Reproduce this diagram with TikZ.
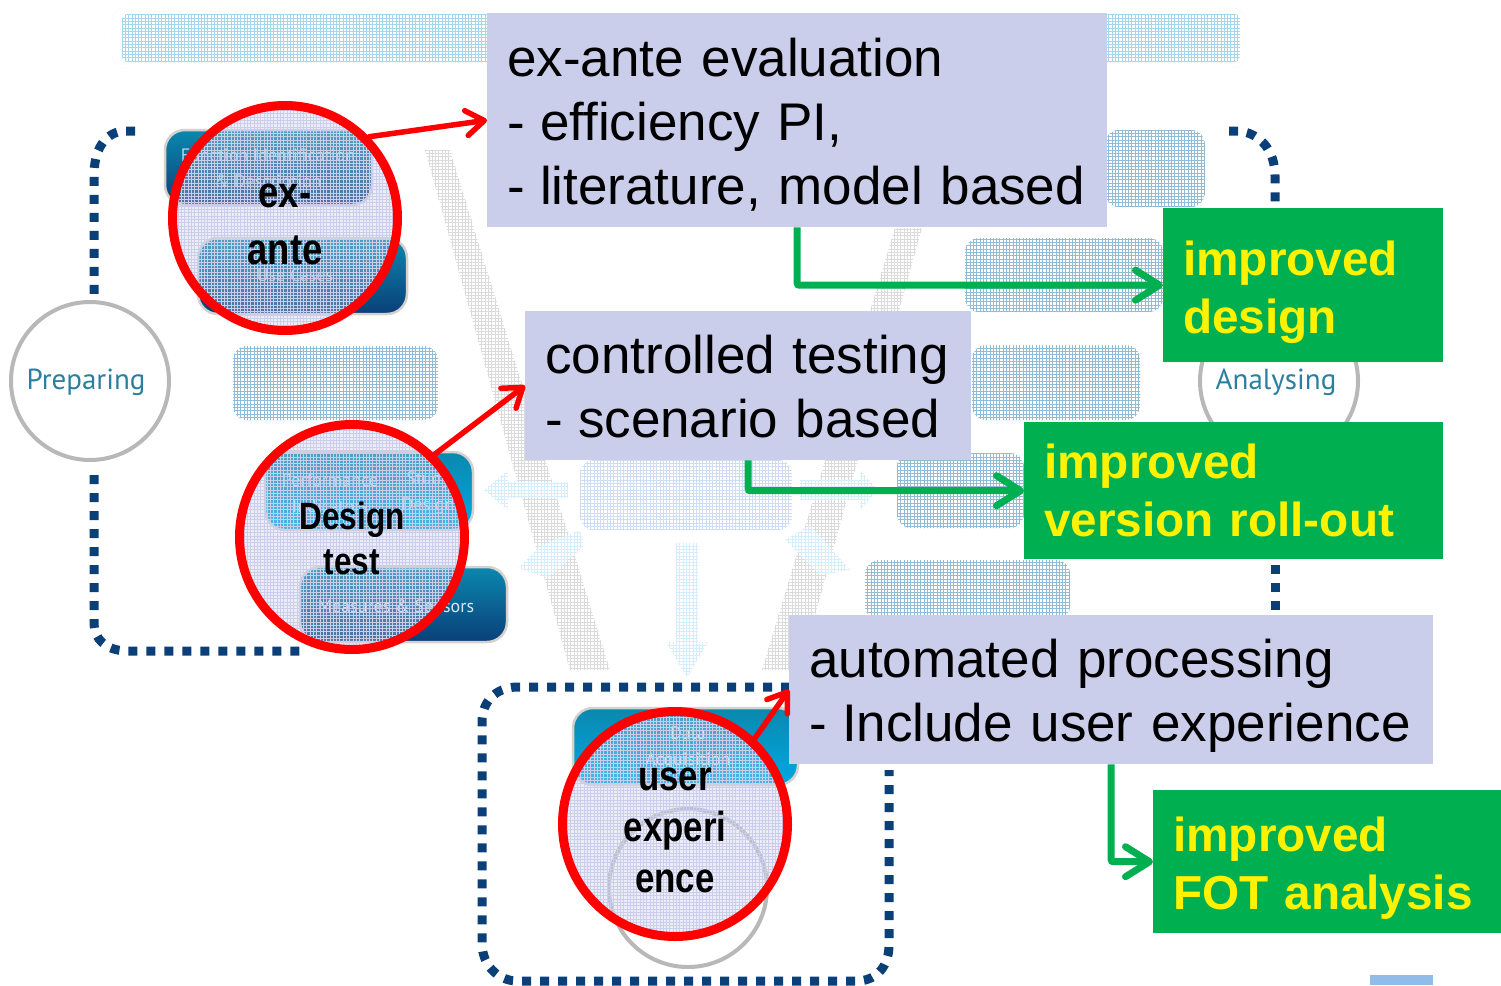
\documentclass[tikz,border=0pt]{standalone}
\usepackage{fontspec}
\setmainfont{Liberation Sans}
\newfontfamily\narrowb[FakeStretch=0.83]{Liberation Sans Bold}
\newfontfamily\softf{PT Sans}
\usetikzlibrary{arrows.meta,patterns,shadings}
\definecolor{lav}{HTML}{CBCEEB}
\definecolor{grn}{HTML}{00B050}
\definecolor{navy}{HTML}{0A3F78}
\definecolor{teal1}{HTML}{0A88AE}
\definecolor{brightb}{HTML}{00A8E4}
\definecolor{rimc}{HTML}{D5D2CE}
\definecolor{fadeb}{HTML}{92BBD6}
\definecolor{fadec}{HTML}{A6D6EA}
\definecolor{fadel}{HTML}{CFDDF2}
\definecolor{arrowl}{HTML}{D6EEFB}
\definecolor{tealt}{HTML}{2B80A0}
\definecolor{cornerb}{HTML}{8FBCE8}
\pgfdeclarepatternformonly{finegrid}{\pgfqpoint{-1pt}{-1pt}}{\pgfqpoint{4pt}{4pt}}{\pgfqpoint{3.3pt}{3.3pt}}{%
  \pgfsetlinewidth{0.9pt}%
  \pgfpathmoveto{\pgfqpoint{0pt}{0pt}}\pgfpathlineto{\pgfqpoint{3.3pt}{0pt}}%
  \pgfpathmoveto{\pgfqpoint{0pt}{0pt}}\pgfpathlineto{\pgfqpoint{0pt}{3.3pt}}%
  \pgfusepath{stroke}}
\tikzset{
  fadebox/.style={rounded corners=14pt,pattern=finegrid,pattern color=fadeb},
  vband/.style={pattern=finegrid,pattern color=black!14},
  farrow/.style={pattern=finegrid,pattern color=arrowl},
  rim/.style={draw=rimc,line width=2.5pt,rounded corners=20pt},
  darkbox/.style={rim,top color=teal1,bottom color=navy},
  brightbox/.style={rim,top color=teal1,bottom color=brightb},
  softtext/.style={text=white,font=\softf\fontsize{18}{26}\selectfont,align=center,opacity=.7},
  phase/.style={circle,draw=black!28,line width=4pt,fill=white,minimum size=158pt,inner sep=0pt},
  phasetext/.style={text=tealt,font=\softf\fontsize{29}{30}\selectfont},
  dots/.style={draw=navy,line width=9pt,dash pattern=on 9pt off 9pt},
  lens/.style={circle,draw=red,line width=9pt,minimum size=225pt,inner sep=0pt,outer sep=4.5pt,
    fill=lav,fill opacity=.35,text opacity=1,align=center},
  lensgrid/.style={circle,minimum size=225pt,inner sep=0pt,pattern=finegrid,pattern color=lav},
  infobox/.style={fill=lav,anchor=north west,align=left,inner xsep=20pt,inner ysep=0pt,
    font=\fontsize{53}{64}\selectfont},
  resultbox/.style={fill=grn,text=yellow,anchor=north west,align=left,inner xsep=20pt,inner ysep=0pt,
    font=\bfseries\fontsize{47.7}{58}\selectfont},
  redarrow/.style={draw=red,line width=5.5pt,line cap=round,-{Straight Barb[length=18pt,width=25pt,line width=5.5pt,round]}},
  grnarrow/.style={draw=grn,line width=7pt,rounded corners=2pt,-{Straight Barb[length=24pt,width=30pt,line width=7pt,round]}},
}
\newcommand{\dashsp}{-\kern-2.5pt{} }
\begin{document}
\begin{tikzpicture}[x=1pt,y=-1pt]
\useasboundingbox (0,0) rectangle (1501,985);
\fill[white] (0,0) rectangle (1501,985);
% faded background
\draw[black!14,dotted,rounded corners=12pt] (112,8) rectangle (1245,68);
\fill[pattern=finegrid,pattern color=fadec,rounded corners=6pt] (122,14) rectangle (1240,62);
\fill[vband] (425,150) -- (450,150) -- (610,670) -- (570,670) -- cycle;
\fill[vband] (895,228) -- (922,228) -- (800,670) -- (762,670) -- cycle;
\fill[farrow] (676,543) -- (698,543) -- (698,642) -- (708,642) -- (687,678) -- (666,642) -- (676,642) -- cycle;
\fill[farrow] (484,490) -- (508,470) -- (508,482) -- (568,482) -- (568,498) -- (508,498) -- (508,510) -- cycle;
\fill[farrow] (518,568) -- (542,545) -- (580,530) -- (584,546) -- (548,578) -- cycle;
\fill[farrow] (800,480) -- (860,480) -- (860,470) -- (878,490) -- (860,510) -- (860,500) -- (800,500) -- cycle;
\fill[farrow] (785,540) -- (810,525) -- (850,570) -- (820,575) -- cycle;
\fill[fadebox,pattern color=fadel] (580,460) rectangle (792,530);
\fill[fadebox] (233,346) rectangle (438,420);
\fill[fadebox] (1105,130) rectangle (1205,207);
\fill[fadebox] (965,238) rectangle (1163,312);
\fill[fadebox] (972,345) rectangle (1140,420);
\fill[fadebox] (897,453) rectangle (1024,528);
\fill[fadebox] (865,560) rectangle (1070,620);
% dotted frames
\draw[dots] (135,131) -- (122,131) .. controls (104,134) and (94,150) .. (94,176) -- (94,296);
\draw[dots] (94,475) -- (94,622) .. controls (94,640) and (106,650) .. (126,651) -- (300,651);
\draw[dots] (1229,131) -- (1240,131) .. controls (1260,134) and (1275,150) .. (1275,176) -- (1275,206);
\draw[dots] (1275,565) -- (1275,612);
\draw[dots] (790,687) -- (516,687) .. controls (495,688) and (482,702) .. (482,722) -- (482,945) .. controls (483,965) and (497,980) .. (516,981) -- (858,981) .. controls (878,980) and (889,965) .. (889,945) -- (889,770);
% phase circles
\node[phase] (prep) at (90,381) {};
\node[phasetext] (preplabel) at (86,382) {Preparing};
\node[phase] (anal) at (1279,381) {};
\node[phasetext] (anallabel) at (1276,382) {Analysing};
\node[phase,fill=none] (drive) at (688,888) {};
% solid blue boxes
\path[darkbox] (165,130) rectangle (372,205);
\node[softtext] (fi) at (268,170) {Function Identification\\\& Description};
\path[darkbox] (198,238) rectangle (407,314);
\node[softtext] (uc) at (295,275) {Use Cases};
\path[brightbox] (265,452) rectangle (473,530);
\node[softtext] (pi) at (330,493) {Performance\\Indicators};
\node[softtext] (sd) at (428,493) {Study\\Design};
\path[darkbox] (300,567) rectangle (507,642);
\node[softtext,opacity=.85] (ms) at (396,606) {Measures \& Sensors};
\path[brightbox] (573,708) rectangle (798,785);
\node[softtext,opacity=.85] (da) at (688,748) {Data\\Acquisition};
% lenses
\node[lensgrid] at (285,218) {};
\node[lensgrid] at (352,537) {};
\node[lensgrid] at (675,824) {};
\node[lens,font=\narrowb\fontsize{44}{57}\selectfont] (c1) at (285,218) {\rule{0pt}{36pt}ex-\\ante};
\node[lens,font=\narrowb\fontsize{38}{45}\selectfont] (c2) at (352,537) {\rule{0pt}{30pt}Design\\test};
\node[lens,font=\narrowb\fontsize{42}{51}\selectfont] (c3) at (675,824) {\rule{0pt}{36pt}user\\experi\\ence};
% text boxes
\node[infobox,minimum width=620pt,minimum height=214pt,text width=580pt] (box1) at (487,13) {\rule{0pt}{47pt}ex-ante evaluation\\\dashsp efficiency PI,\\\mbox{\dashsp literature, model based}};
\node[infobox,minimum width=446pt,minimum height=149pt,text width=406pt] (box2) at (525,311) {\rule{0pt}{41pt}controlled testing\\\dashsp scenario based};
\node[infobox,minimum width=644pt,minimum height=149pt,text width=604pt] (box3) at (789,615) {\rule{0pt}{51pt}automated processing\\\dashsp Include user experience};
\node[resultbox,minimum width=280pt,minimum height=154pt,text width=240pt] (g1) at (1163,208) {\rule{0pt}{48pt}improved\\design};
\node[resultbox,minimum width=419pt,minimum height=137pt,text width=379pt] (g2) at (1024,422) {improved\\version roll-out};
\node[resultbox,minimum width=348pt,minimum height=143pt,text width=308pt] (g3) at (1153,790) {\rule{0pt}{48pt}improved\\FOT analysis};
% connectors
\draw[redarrow] (c1.44) -- (box1.west);
\draw[redarrow] (c2.45) -- (box2.west);
\draw[redarrow] (c3.47) -- (box3.west);
\draw[grnarrow] (box1.south) |- (g1.west);
\draw[grnarrow] (box2.south) |- (g2.west);
\draw[grnarrow] (box3.south) |- (g3.west);
\fill[cornerb] (1370,975) rectangle (1433,985);
\end{tikzpicture}
\end{document}
